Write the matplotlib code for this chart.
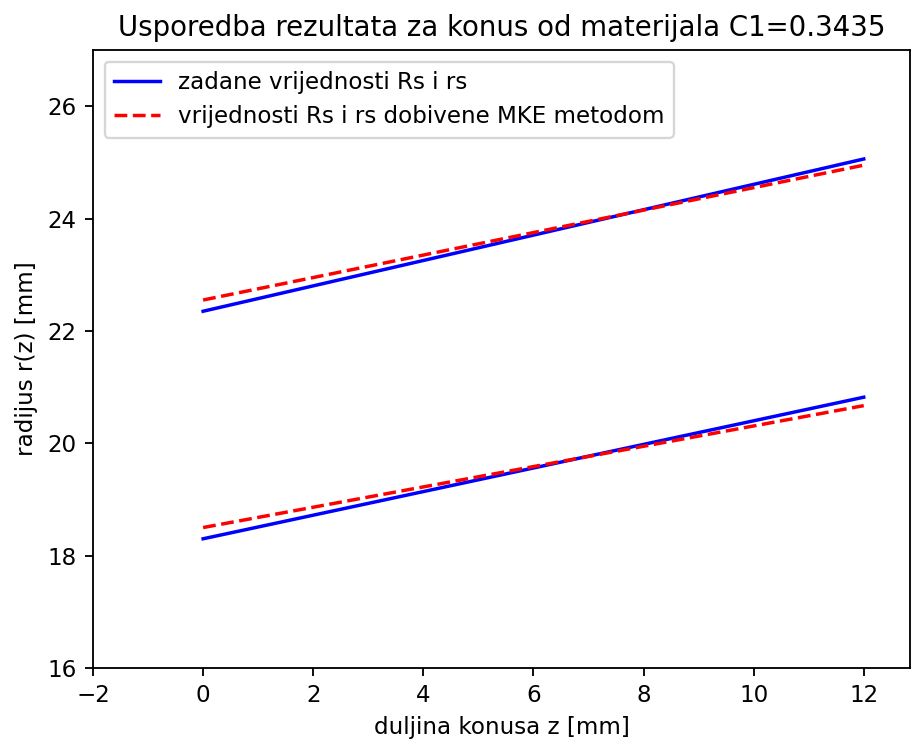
import matplotlib
matplotlib.use("Agg")
import matplotlib.pyplot as plt

# duljina konusa z [mm]
z = [0, 12]

# zadane vrijednosti (Rs vanjski, rs unutarnji)
Rs_zadano = [22.35, 25.06]
rs_zadano = [18.30, 20.82]

# vrijednosti dobivene MKE metodom
Rs_mke = [22.55, 24.95]
rs_mke = [18.50, 20.67]

DPI = 166
W, H = 911, 739

fig = plt.figure(figsize=(W / DPI, H / DPI), dpi=DPI)
ax = fig.add_axes([93 / W, 1 - 668 / H, (910 - 93) / W, (668 - 50) / H])

ax.plot(z, Rs_zadano, color="blue", label="zadane vrijednosti Rs i rs")
ax.plot(z, rs_zadano, color="blue")
ax.plot(z, Rs_mke, color="red", linestyle="--", label="vrijednosti Rs i rs dobivene MKE metodom")
ax.plot(z, rs_mke, color="red", linestyle="--")

ax.set_xlim(-2, 12.84)
ax.set_ylim(16, 27)
ax.set_xticks(range(-2, 13, 2))
ax.set_yticks(range(16, 27, 2))

ax.set_xlabel("duljina konusa z [mm]")
ax.set_ylabel("radijus r(z) [mm]")
ax.set_title("Usporedba rezultata za konus od materijala C1=0.3435")
ax.legend(loc="upper left")

fig.savefig("out.png", dpi=DPI)
